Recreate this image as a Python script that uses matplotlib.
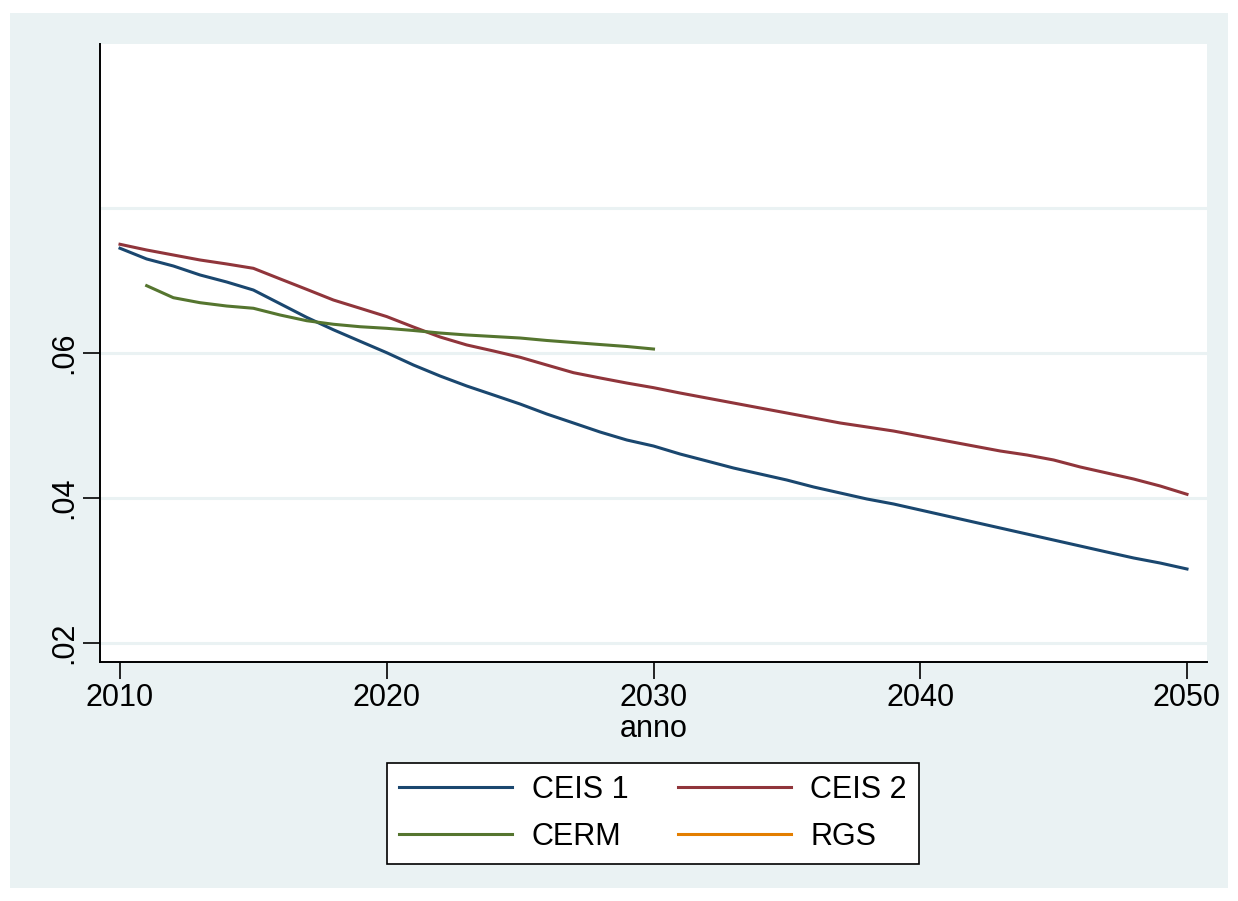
import numpy as np
import matplotlib
matplotlib.use("Agg")
import matplotlib.pyplot as plt
from matplotlib.patches import Rectangle

# Data
years = list(range(2010, 2051))
ceis1 = [.07447, .07299, .07202, .07078, .06981, .06870, .06681, .06492, .06321, .06162,
         .06004, .05834, .05682, .05544, .05420, .05295, .05157, .05033, .04908, .04798,
         .04715, .04604, .04508, .04411, .04328, .04245, .04149, .04066, .03983, .03914,
         .03831, .03748, .03665, .03582, .03499, .03416, .03333, .03250, .03168, .03098,
         .03016]
ceis2 = [.07502, .07423, .07354, .07285, .07230, .07170, .07024, .06879, .06732, .06618,
         .06503, .06359, .06221, .06111, .06028, .05941, .05834, .05728, .05655, .05585,
         .05521, .05447, .05378, .05309, .05240, .05171, .05102, .05033, .04978, .04922,
         .04853, .04784, .04715, .04646, .04591, .04522, .04425, .04342, .04259, .04162,
         .04048]
years_cerm = list(range(2011, 2031))
cerm = [.06930, .06764, .06695, .06649, .06618, .06525, .06446, .06397, .06363, .06341,
        .06311, .06276, .06249, .06228, .06207, .06173, .06145, .06117, .06090, .06055]
years_rgs = []
rgs = []

ytick_vals = [.02, .04, .06]
ytick_labels = [".02", ".04", ".06"]
grid_vals = [.02, .04, .06, .08]
xtick_vals = [2010, 2020, 2030, 2040, 2050]

bg = "#EAF2F3"
plt.rcParams['font.family'] = ['Liberation Sans', 'DejaVu Sans']

W, H = 1238, 901
fig = plt.figure(figsize=(W / 100, H / 100), dpi=100, facecolor="white")
# light graph region inside a thin white border
fig.patches.append(Rectangle((10 / W, 1 - 888 / H), (1228 - 10) / W, (888 - 13) / H,
                             transform=fig.transFigure, facecolor=bg, edgecolor="none",
                             zorder=-10))

ax = fig.add_axes([100 / W, 1 - 662 / H, (1207 - 100) / W, (662 - 44) / H])
ax.set_facecolor("white")

for g in grid_vals:
    ax.axhline(g, color=bg, lw=2.2, zorder=1)

l1, = ax.plot(years, ceis1, color="#1A476F", lw=2.2, label="CEIS 1", zorder=3)
l2, = ax.plot(years, ceis2, color="#90353B", lw=2.2, label="CEIS 2", zorder=3)
l3, = ax.plot(years_cerm, cerm, color="#55752F", lw=2.2, label="CERM", zorder=3)
l4, = ax.plot(years_rgs, rgs, color="#E37E00", lw=2.2, label="RGS", zorder=3)

ax.set_xlim(2009.25, 2050.75)
ax.set_ylim(.01731, .10269)

for s in ["top", "right"]:
    ax.spines[s].set_visible(False)
for s in ["left", "bottom"]:
    ax.spines[s].set_linewidth(1.4)
    ax.spines[s].set_color("black")

ax.set_yticks(ytick_vals)
ax.set_yticklabels(ytick_labels, rotation=90, va="center", fontsize=22)
ax.set_xticks(xtick_vals)
ax.set_xticklabels([str(x) for x in xtick_vals], fontsize=22)
ax.tick_params(axis="both", length=12, width=1.2, pad=3)
ax.set_xlabel("anno", fontsize=22, labelpad=1)

# row-wise order like Stata: CEIS 1, CEIS 2 / CERM, RGS
handles = [l1, l3, l2, l4]
leg = fig.legend(handles, [h.get_label() for h in handles], ncol=2, loc="center",
                 bbox_to_anchor=(653 / W, 1 - 813.5 / H),
                 fontsize=22, frameon=True, fancybox=False, edgecolor="black",
                 facecolor="white", framealpha=1, handlelength=3.7, handletextpad=0.65,
                 columnspacing=1.6, labelspacing=0.55, borderpad=0.4)
leg.get_frame().set_linewidth(1.2)

fig.savefig("out.png", dpi=100, facecolor=fig.get_facecolor())
